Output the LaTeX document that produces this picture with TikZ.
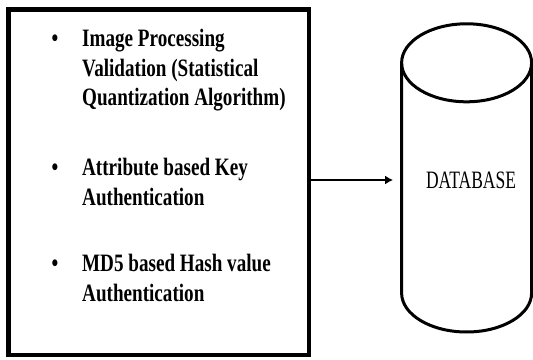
\documentclass[tikz,border=0pt]{standalone}
\usepackage{fontspec}
\usetikzlibrary{arrows.meta}
\newfontfamily\itemfont[FakeStretch=0.765]{Liberation Serif}
\newfontfamily\dbfont[FakeStretch=0.7]{Liberation Serif}
\tikzset{
  itemtext/.style={anchor=base west, inner sep=0pt, font=\itemfont\bfseries\fontsize{25}{29.5}\selectfont},
  dbline/.style={line width=3pt},
}
\newcommand{\bul}{\makebox[30.5pt][l]{\textbullet}}
\begin{document}
\begin{tikzpicture}[x=1pt,y=1pt]
    \useasboundingbox (0,0) rectangle (533,359);
    %box with the three items
    \node (panel) [draw, line width=4.5pt, minimum width=300.5pt, minimum height=345.5pt, inner sep=0pt] at (158.75,176.75) {};
    \node (item1) [itemtext] at (51.5,312) {\begin{tabular}[t]{@{}l@{}l@{}}\bul & Image Processing\\ & Validation (Statistical\\ & Quantization Algorithm)\end{tabular}};
    \node (item2) [itemtext] at (51.5,183) {\begin{tabular}[t]{@{}l@{}l@{}}\bul & Attribute based Key\\ & Authentication\end{tabular}};
    \node (item3) [itemtext] at (51.5,87) {\begin{tabular}[t]{@{}l@{}l@{}}\bul & MD5 based Hash value\\ & Authentication\end{tabular}};
    %database
    \draw[dbline] (401.6,296.2) -- (401.6,66) arc[start angle=180, end angle=360, x radius=65, y radius=39] -- (531.6,296.2);
    \draw[dbline] (466.6,296.2) ellipse [x radius=65, y radius=39];
    \node (dbtext) [anchor=base, inner sep=0pt, font=\dbfont\fontsize{25}{29.5}\selectfont] at (471,170.5) {DATABASE};
    %arrow
    \coordinate (dbin) at (393,179);
    \draw[line width=1.3pt, -{Latex[length=8pt,width=9pt]}] (panel.east |- dbin) -- (dbin);
\end{tikzpicture}
\end{document}
